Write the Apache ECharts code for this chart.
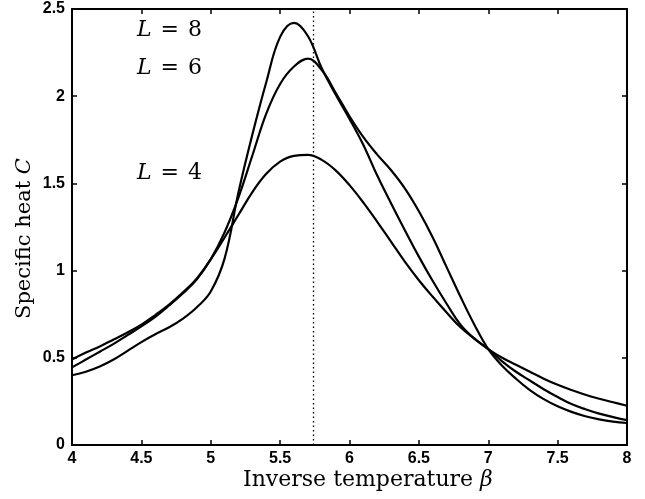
<!DOCTYPE html>
<html>
<head>
<meta charset="utf-8">
<script src="https://cdn.jsdelivr.net/npm/echarts@6/dist/echarts.min.js"></script>
<style>
  html, body { margin: 0; padding: 0; background: #fff; }
  #chart { width: 645px; height: 499px; }
</style>
</head>
<body>
<div id="chart"></div>
<script>
// Inverse temperature grid (beta), 4.0 ... 8.0
const beta = [4.0, 4.1, 4.2, 4.3, 4.4, 4.5, 4.6, 4.7, 4.8, 4.9,
              5.0, 5.1, 5.2, 5.3, 5.4, 5.5, 5.6, 5.7, 5.8, 5.9,
              6.0, 6.1, 6.2, 6.3, 6.4, 6.5, 6.6, 6.7, 6.8, 6.9,
              7.0, 7.1, 7.2, 7.3, 7.4, 7.5, 7.6, 7.7, 7.8, 7.9, 8.0];
// Specific heat C, L = 4
const heatL4 = [0.49, 0.53, 0.565, 0.605, 0.645, 0.69, 0.745, 0.805, 0.875, 0.955,
                1.065, 1.19, 1.32, 1.45, 1.555, 1.625, 1.658, 1.663, 1.635, 1.575,
                1.49, 1.39, 1.28, 1.165, 1.05, 0.945, 0.85, 0.76, 0.675, 0.61,
                0.55, 0.50, 0.46, 0.42, 0.38, 0.345, 0.315, 0.288, 0.265, 0.245, 0.225];
// Specific heat C, L = 6
const heatL6 = [0.445, 0.49, 0.535, 0.58, 0.63, 0.68, 0.735, 0.80, 0.87, 0.95,
                1.065, 1.22, 1.42, 1.66, 1.90, 2.07, 2.17, 2.215, 2.15, 2.02,
                1.885, 1.765, 1.665, 1.575, 1.47, 1.34, 1.19, 1.02, 0.85, 0.69,
                0.55, 0.455, 0.38, 0.315, 0.263, 0.222, 0.19, 0.165, 0.147, 0.134, 0.126];
// Specific heat C, L = 8
const heatL8 = [0.40, 0.42, 0.45, 0.49, 0.54, 0.59, 0.635, 0.675, 0.725, 0.79,
                0.88, 1.07, 1.45, 1.78, 2.08, 2.34, 2.42, 2.345, 2.16, 2.01,
                1.87, 1.72, 1.545, 1.385, 1.23, 1.08, 0.94, 0.81, 0.69, 0.61,
                0.55, 0.48, 0.42, 0.37, 0.32, 0.275, 0.235, 0.205, 0.18, 0.16, 0.143];
const criticalBeta = 5.74;
const sizeLabels = ['4', '6', '8'];
const xTicks = { min: 4, max: 8, interval: 0.5 };
const yTicks = { min: 0, max: 2.5, interval: 0.5 };

const chart = echarts.init(document.getElementById('chart'), null, { renderer: 'canvas' });

function pairs(ys) { return beta.map((b, i) => [b, ys[i]]); }

const lineStyle = { color: '#000', width: 2.2 };
const tickFont = { color: '#000', fontFamily: 'Liberation Sans, Arial, sans-serif', fontSize: 16, fontWeight: 'bold' };
const axisLine = { show: true, onZero: false, lineStyle: { color: '#000', width: 2 } };
const tick = { show: true, inside: true, length: 5, lineStyle: { color: '#000', width: 1.5 } };

const makeSeries = (name, ys) => ({
  name: name, type: 'line', data: pairs(ys), smooth: 0.4, showSymbol: false, symbol: 'none',
  lineStyle: lineStyle, xAxisIndex: 0, yAxisIndex: 0, z: 3, animation: false
});

const series = [
  makeSeries('L = ' + sizeLabels[0], heatL4),
  makeSeries('L = ' + sizeLabels[1], heatL6),
  makeSeries('L = ' + sizeLabels[2], heatL8)
];
series[0].markLine = {
  silent: true, symbol: 'none', label: { show: false },
  lineStyle: { type: [1.5, 3], color: '#000', width: 1.3 },
  data: [{ xAxis: criticalBeta }], animation: false
};

const serif = 'DejaVu Serif, Liberation Serif, serif';

const labelText = (txt, x, y) => ({
  type: 'text', left: x, top: y,
  style: {
    text: '{i|L}{e|=}{n|' + txt + '}',
    rich: {
      i: { fontFamily: serif, fontStyle: 'italic', fontSize: 22, color: '#000' },
      e: { fontFamily: serif, fontSize: 22, padding: [0, 9], color: '#000' },
      n: { fontFamily: serif, fontSize: 22, color: '#000' }
    }
  }
});

chart.setOption({
  animation: false,
  backgroundColor: '#fff',
  grid: { left: 72, right: 18, top: 9, bottom: 54, containLabel: false },
  xAxis: [
    {
      type: 'value', min: xTicks.min, max: xTicks.max, interval: xTicks.interval,
      axisLine: axisLine, splitLine: { show: false }, axisTick: tick,
      axisLabel: Object.assign({ margin: 6 }, tickFont)
    },
    {
      type: 'value', position: 'top', min: xTicks.min, max: xTicks.max, interval: xTicks.interval,
      axisLine: axisLine, splitLine: { show: false }, axisTick: tick,
      axisLabel: { show: false }
    }
  ],
  yAxis: [
    {
      type: 'value', min: yTicks.min, max: yTicks.max, interval: yTicks.interval,
      axisLine: axisLine, splitLine: { show: false }, axisTick: tick,
      axisLabel: Object.assign({ margin: 7 }, tickFont)
    },
    {
      type: 'value', position: 'right', min: yTicks.min, max: yTicks.max, interval: yTicks.interval,
      axisLine: axisLine, splitLine: { show: false }, axisTick: tick,
      axisLabel: { show: false }
    }
  ],
  graphic: [
    labelText(sizeLabels[2], 137, 19),
    labelText(sizeLabels[1], 137, 57),
    labelText(sizeLabels[0], 137, 162),
    {
      type: 'text', left: 243, top: 469,
      style: {
        text: '{a|Inverse temperature }{b|β}',
        rich: {
          a: { fontFamily: serif, fontSize: 22, color: '#000' },
          b: { fontFamily: serif, fontStyle: 'italic', fontSize: 22, color: '#000' }
        }
      }
    },
    {
      type: 'text', rotation: Math.PI / 2, x: 14, y: 319,
      style: {
        text: '{a|Specific heat }{b|C}',
        rich: {
          a: { fontFamily: serif, fontSize: 21, color: '#000' },
          b: { fontFamily: serif, fontStyle: 'italic', fontSize: 21, color: '#000' }
        },
        verticalAlign: 'top'
      }
    }
  ],
  series: series
});
</script>
</body>
</html>
